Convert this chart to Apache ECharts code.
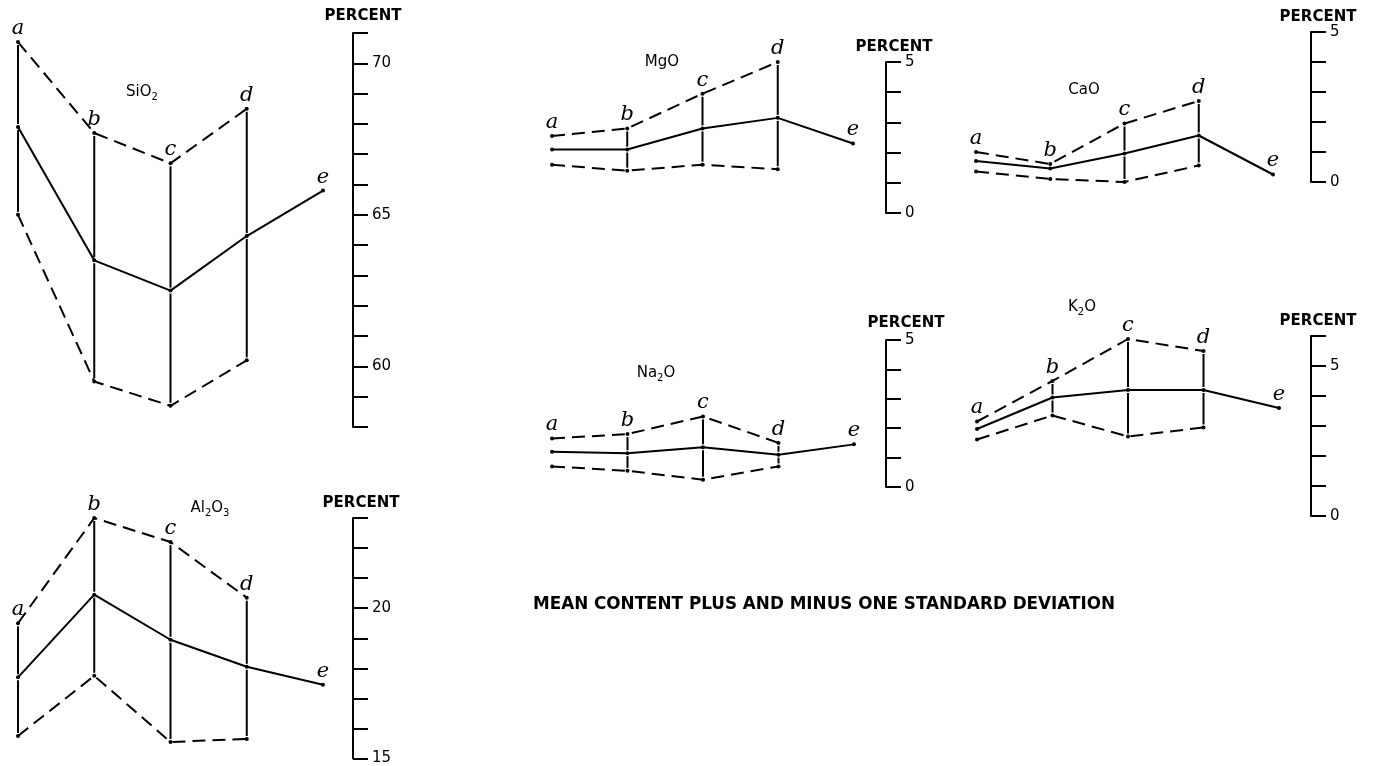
<!DOCTYPE html>
<html>
<head>
<meta charset="utf-8">
<title>Mean content plus and minus one standard deviation</title>
<script src="https://cdn.jsdelivr.net/npm/echarts@6/dist/echarts.min.js"></script>
<style>
  html, body { margin: 0; padding: 0; background: #fff; }
  #chart { width: 1376px; height: 766px; }
</style>
</head>
<body>
<div id="chart"></div>
<script>
// stations a..e (e has only a mean value)
const stations = ['a', 'b', 'c', 'd', 'e'];

// SiO2, percent
const sio2Upper = [70.7, 67.7, 66.7, 68.5];
const sio2Mean = [67.9, 63.5, 62.5, 64.3, 65.8];
const sio2Lower = [65.0, 59.5, 58.7, 60.2];

// Al2O3
const al2o3Upper = [19.5, 23.0, 22.2, 20.35];
const al2o3Mean = [17.7, 20.45, 18.95, 18.05, 17.45];
const al2o3Lower = [15.75, 17.75, 15.55, 15.65];

// MgO
const mgoUpper = [2.55, 2.8, 3.95, 5.0];
const mgoMean = [2.1, 2.1, 2.8, 3.15, 2.3];
const mgoLower = [1.6, 1.4, 1.6, 1.45];

// CaO
const caoUpper = [1.0, 0.6, 1.95, 2.7];
const caoMean = [0.7, 0.45, 0.95, 1.55, 0.25];
const caoLower = [0.35, 0.1, 0.0, 0.55];

// Na2O
const na2oUpper = [1.65, 1.8, 2.4, 1.5];
const na2oMean = [1.2, 1.15, 1.35, 1.1, 1.45];
const na2oLower = [0.7, 0.55, 0.25, 0.7];

// K2O
const k2oUpper = [3.15, 4.5, 5.9, 5.5];
const k2oMean = [2.9, 3.95, 4.2, 4.2, 3.6];
const k2oLower = [2.55, 3.35, 2.65, 2.95];

// stations where the vertical tie between -1sd and +1sd is drawn
const sio2Ties = [0, 1, 2, 3];
const al2o3Ties = [0, 1, 2, 3];
const mgoTies = [1, 2, 3];
const caoTies = [2, 3];
const na2oTies = [1, 2, 3];
const k2oTies = [1, 2, 3];

const footer = 'MEAN CONTENT PLUS AND MINUS ONE STANDARD DEVIATION';

// layout of every small panel
const panels = [
  { title: '{m|SiO}{s|2}', upper: sio2Upper, mean: sio2Mean, lower: sio2Lower, ties: sio2Ties,
    min: 58, max: 71, left: 18, top: 33, width: 305, height: 394, offset: 30,
    nameGap: 17, nameShift: 10, titlePos: [142, 92] },
  { title: '{m|Al}{s|2}{m|O}{s|3}', upper: al2o3Upper, mean: al2o3Mean, lower: al2o3Lower, ties: al2o3Ties,
    min: 15, max: 23, left: 18, top: 518, width: 305, height: 244, offset: 30,
    nameGap: 15, nameShift: 8, titlePos: [210, 508] },
  { title: '{m|MgO}', upper: mgoUpper, mean: mgoMean, lower: mgoLower, ties: mgoTies,
    min: 0, max: 5, left: 552, top: 62, width: 301, height: 151, offset: 33,
    nameGap: 15, nameShift: 8, titlePos: [662, 62] },
  { title: '{m|CaO}', upper: caoUpper, mean: caoMean, lower: caoLower, ties: caoTies,
    min: 0, max: 5, left: 976, top: 32, width: 297, height: 150, offset: 38,
    nameGap: 14, nameShift: 7, titlePos: [1084, 90] },
  { title: '{m|Na}{s|2}{m|O}', upper: na2oUpper, mean: na2oMean, lower: na2oLower, ties: na2oTies,
    min: 0, max: 5, left: 552, top: 340, width: 302, height: 147, offset: 32,
    nameGap: 17, nameShift: 20, titlePos: [656, 373] },
  { title: '{m|K}{s|2}{m|O}', upper: k2oUpper, mean: k2oMean, lower: k2oLower, ties: k2oTies,
    min: 0, max: 6, left: 977, top: 336, width: 302, height: 180, offset: 32,
    nameGap: 15, nameShift: 7, titlePos: [1082, 307] }
];

const ink = '#000';
const sans = 'DejaVu Sans';
const lw = 2;
const letterStyle = {
  show: true,
  position: 'top',
  distance: 1,
  color: ink,
  fontFamily: 'DejaVu Serif',
  fontStyle: 'italic',
  fontSize: 21
};

const grid = [], xAxis = [], yAxis = [], series = [], graphic = [];

panels.forEach((p, i) => {
  grid.push({ left: p.left, top: p.top, width: p.width, height: p.height });
  xAxis.push({ type: 'value', gridIndex: i, min: 0, max: 4, show: false });
  yAxis.push({
    type: 'value', gridIndex: i, position: 'right', offset: p.offset,
    min: p.min, max: p.max, interval: 1,
    axisLine: { show: true, onZero: false, lineStyle: { color: ink, width: lw } },
    axisTick: { show: true, length: 15, lineStyle: { color: ink, width: lw } },
    axisLabel: {
      margin: 19, color: ink, fontFamily: sans, fontSize: 15,
      formatter: v => (v % 5 === 0 ? String(v) : '')
    },
    splitLine: { show: false },
    name: 'PERCENT', nameLocation: 'end', nameGap: p.nameGap,
    nameTextStyle: {
      color: ink, fontFamily: sans, fontWeight: 'bold', fontSize: 15,
      align: 'center', verticalAlign: 'middle', padding: [0, 0, 0, p.nameShift * 2]
    }
  });

  const line = (data, dashed, label) => ({
    type: 'line', xAxisIndex: i, yAxisIndex: i,
    data: data.map((v, k) => [k, v]),
    symbol: 'circle', symbolSize: 4,
    itemStyle: { color: ink },
    lineStyle: { color: ink, width: lw, type: dashed ? [13, 7] : 'solid' },
    label: label,
    clip: false,
    silent: true
  });

  series.push(line(p.upper, true, Object.assign({}, letterStyle, {
    formatter: prm => stations[prm.dataIndex]
  })));
  series.push(line(p.lower, true, { show: false }));
  series.push(line(p.mean, false, Object.assign({}, letterStyle, {
    formatter: prm => (prm.dataIndex === 4 ? stations[4] : '')
  })));

  // vertical ties, broken round each dot
  series.push({
    type: 'custom', xAxisIndex: i, yAxisIndex: i, silent: true,
    data: p.ties.map(k => [k, p.lower[k], p.mean[k], p.upper[k]]),
    encode: { x: 0, y: [1, 2, 3] },
    renderItem: (params, api) => {
      const x = api.value(0);
      const lo = api.coord([x, api.value(1)]);
      const mid = api.coord([x, api.value(2)]);
      const up = api.coord([x, api.value(3)]);
      const gap = 3;
      const st = { stroke: ink, lineWidth: lw };
      return {
        type: 'group',
        children: [
          { type: 'line', shape: { x1: lo[0], y1: lo[1] - gap, x2: mid[0], y2: mid[1] + gap }, style: st },
          { type: 'line', shape: { x1: mid[0], y1: mid[1] - gap, x2: up[0], y2: up[1] + gap }, style: st }
        ]
      };
    }
  });

  graphic.push({
    type: 'text', x: p.titlePos[0], y: p.titlePos[1], silent: true,
    style: {
      text: p.title, align: 'center', verticalAlign: 'middle', fill: ink,
      rich: {
        m: { fontFamily: sans, fontSize: 15, fill: ink },
        s: { fontFamily: sans, fontSize: 10, fill: ink, padding: [10, 0, 0, 0] }
      }
    }
  });
});

graphic.push({
  type: 'text', x: 533, y: 605, silent: true,
  style: {
    text: footer, align: 'left', verticalAlign: 'middle', fill: ink,
    fontFamily: sans, fontWeight: 'bold', fontSize: 16.8
  }
});

const chart = echarts.init(document.getElementById('chart'));
chart.setOption({
  animation: false,
  backgroundColor: '#fff',
  grid, xAxis, yAxis, series, graphic
});

window.addEventListener('resize', () => chart.resize());
</script>
</body>
</html>
